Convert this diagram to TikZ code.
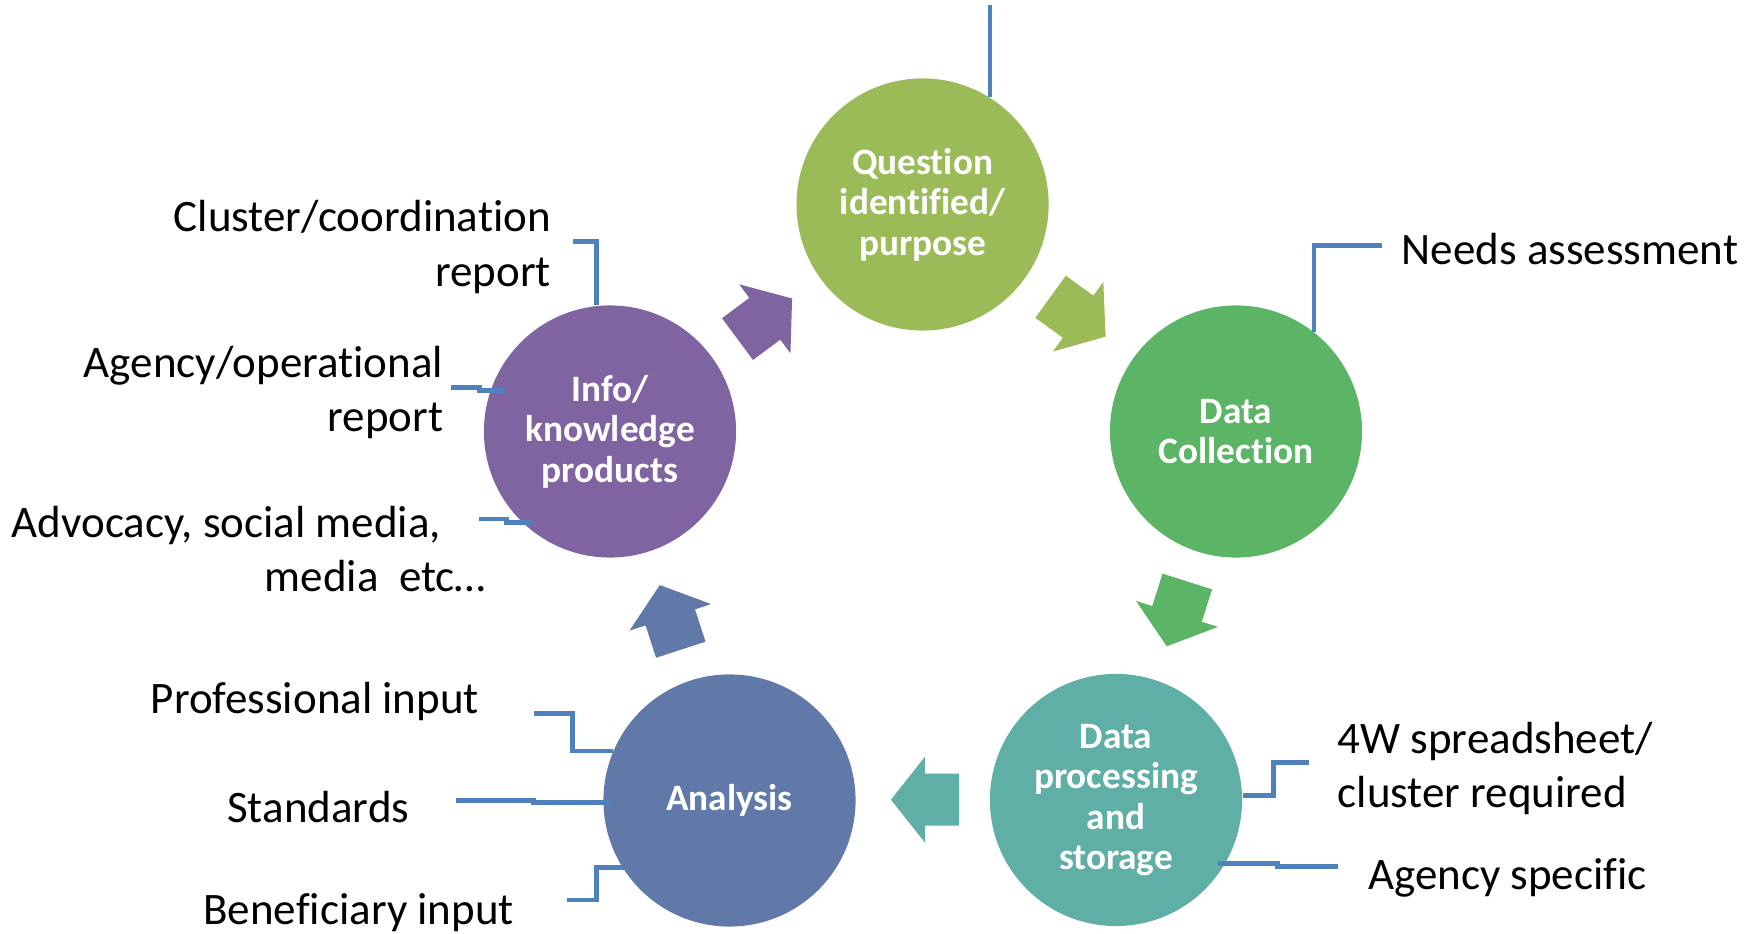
\documentclass[tikz,border=0pt]{standalone}
\usepackage{fontspec}
\setmainfont{Carlito}[RawFeature={-liga;-clig;-dlig}]
\usetikzlibrary{positioning, calc}
\definecolor{QuestGreen}{HTML}{9BBB59}
\definecolor{CollectGreen}{HTML}{5CB567}
\definecolor{ProcessTeal}{HTML}{5FAFA6}
\definecolor{AnalysisBlue}{HTML}{6079A9}
\definecolor{InfoPurple}{HTML}{8064A2}
\definecolor{Leader}{HTML}{4F81BD}
\definecolor{White}{HTML}{FFFFFF}
\tikzset{
    stagenode/.style={circle, minimum size=2.52cm, inner sep=0pt, text=White, align=center, font=\fontsize{10.6}{11.5}\selectfont\bfseries},
    notenode/.style={inner sep=0pt, text=black, yshift=-0.035cm, font=\fontsize{12.8}{15.5}\selectfont},
    leader/.style={draw=Leader, line width=1.35pt},
}
\newcommand{\cyclearrow}[3]{%
    \fill[#3, shift={#1}, rotate=#2] (-34,-26) -- (0,-26) -- (0,-43) -- (34,0) -- (0,43) -- (0,26) -- (-34,26) -- cycle;}

\begin{document}
\begin{tikzpicture}[x=0.01cm, y=-0.01cm]
    \useasboundingbox (0,0) rectangle (1762,934);

    % Fasi del ciclo
    \node[stagenode, fill=QuestGreen] (quest) at (922.6,204.5) {Question\\identi\kern0ptfied/\\purpose};
    \node[stagenode, fill=CollectGreen] (collect) at (1236,431.5) {Data\\Collec\kern0ptt\kern0ption};
    \node[stagenode, fill=ProcessTeal] (process) at (1116,800) {Data\\processing\\and\\storage};
    \node[stagenode, fill=AnalysisBlue] (analysis) at (729.5,800.5) {Analysis};
    \node[stagenode, fill=InfoPurple] (info) at (610,431.5) {Info/\\knowledge\\products};

    % Frecce tra le fasi
    \cyclearrow{(764.8,318.8)}{36.6}{InfoPurple}
    \cyclearrow{(1078.1,316.7)}{-35.9}{QuestGreen}
    \cyclearrow{(1177,613.9)}{-107.6}{CollectGreen}
    \cyclearrow{(925,799.7)}{180}{ProcessTeal}
    \cyclearrow{(670.3,617.4)}{108}{AnalysisBlue}

    % Etichette a destra
    \node[notenode, anchor=west] (needs) at (1401,246) {Needs assessment};
    \node[notenode, anchor=west, align=left] (spread) at (1337,765) {4W spreadsheet/\\cluster required};
    \node[notenode, anchor=west] (agspec) at (1367.5,874) {Agency speci\kern0ptfic};

    % Etichette a sinistra
    \node[notenode, anchor=east, align=right] (cluster) at (551.7,243.3) {Cluster/coordination\\report};
    \node[notenode, anchor=east, align=right] (agop) at (443.9,388.8) {Agency/operat\kern0ptional\\report};
    \node[notenode, anchor=east, align=right] (advoc) at (486.6,545.5) {Advocacy, social media,\hspace*{0.45cm}\\media\ \ etc…};
    \node[notenode, anchor=east] (prof) at (479.8,697.8) {Professional input};
    \node[notenode, anchor=east] (stand) at (410,803.5) {Standards};
    \node[notenode, anchor=east] (benef) at (514.7,909) {Bene\kern0ptficiary input};

    % Estremi liberi dei connettori
    \coordinate (qtop-c) at (990,5);
    \coordinate (needs-c) at (1381.7,245.7);
    \coordinate (spread-c) at (1309.3,762.7);
    \coordinate (agspec-c) at (1337.7,866.7);
    \coordinate (cluster-c) at (573.3,241.7);
    \coordinate (agop-c) at (450.7,387.7);
    \coordinate (advoc-c) at (479,519);
    \coordinate (prof-c) at (534,713.3);
    \coordinate (stand-c) at (456,800.7);
    \coordinate (benef-c) at (566.7,900);

    % Connettori
    \draw[leader] (qtop-c) -- (qtop-c|-quest.58);
    \draw[leader] (needs-c) -| (collect.52);
    \draw[leader] (spread-c) -- ++(-36,0) |- (process.2);
    \draw[leader] (agspec-c) -- ++(-60.4,0) |- ([xshift=-0.08cm]process.-30);
    \draw[leader] (cluster-c) -| (info.96);
    \draw[leader] (agop-c) -- ++(29,0) |- ([xshift=0.15cm]info.161);
    \draw[leader] (advoc-c) -- ++(27.7,0) |- ([xshift=0.1cm]info.226);
    \draw[leader] (prof-c) -- ++(38.7,0) |- (analysis.157);
    \draw[leader] (stand-c) -- ++(77.3,0) |- ([xshift=0.075cm]analysis.181);
    \draw[leader] (benef-c) -- ++(30,0) |- ([xshift=0.04cm]analysis.212);
\end{tikzpicture}
\end{document}
